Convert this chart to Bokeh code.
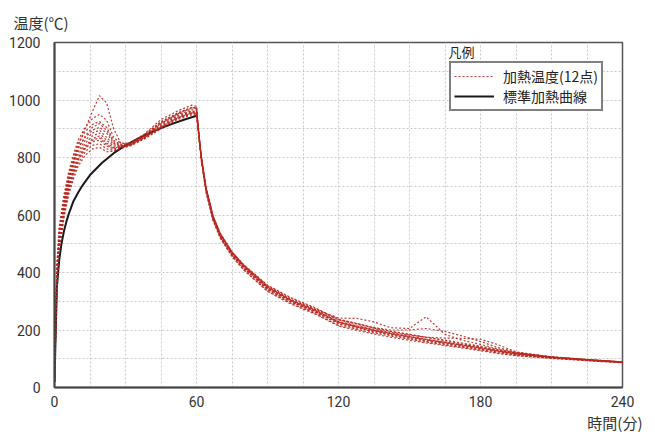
from bokeh.plotting import figure
from bokeh.models import Legend, LegendItem, Label, FixedTicker, Title
from bokeh.core.properties import value
from bokeh.embed import file_html
from bokeh.resources import INLINE

# time (minutes) for measured heating temperatures
T = [0, 1, 2, 4, 6, 8, 10, 13, 16, 19, 22, 25, 28, 32, 38, 45, 52, 58, 60,
     61, 62, 64, 67, 70, 75, 80, 90, 100, 110, 120, 128, 135, 142, 150, 157, 165, 172, 180, 187, 195, 210, 225, 240]

C1 = [20, 400, 530, 640, 720, 780, 840, 900, 960, 1015, 990, 900, 850, 845, 872, 918, 952, 972, 975,
      885, 808, 700, 598, 538, 472, 425, 352, 305, 272, 235, 220, 206, 195, 184, 174, 163, 152, 141, 130, 119, 106, 97, 89]
C2 = [20, 430, 560, 670, 750, 810, 860, 905, 935, 950, 930, 870, 850, 850, 882, 932, 962, 982, 978,
      880, 802, 692, 592, 532, 468, 422, 350, 305, 272, 242, 240, 228, 208, 205, 246, 185, 165, 150, 135, 121, 106, 97, 89]
C3 = [20, 420, 550, 660, 740, 800, 850, 890, 915, 925, 905, 860, 845, 850, 880, 925, 955, 972, 970,
      878, 800, 690, 590, 530, 465, 420, 348, 302, 268, 230, 214, 203, 192, 182, 175, 172, 171, 168, 150, 124, 106, 96, 88]
C4 = [20, 410, 540, 650, 730, 790, 835, 870, 895, 905, 885, 850, 840, 848, 878, 920, 950, 966, 965,
      882, 805, 695, 595, 535, 470, 424, 350, 304, 270, 228, 212, 199, 188, 177, 167, 157, 148, 138, 128, 117, 104, 95, 87]
C5 = [20, 390, 520, 640, 715, 775, 820, 860, 885, 895, 870, 845, 840, 845, 875, 915, 946, 962, 960,
      875, 795, 685, 585, 525, 460, 414, 340, 296, 262, 222, 206, 194, 183, 171, 161, 152, 143, 133, 124, 114, 103, 95, 87]
C6 = [20, 380, 510, 630, 705, 765, 810, 850, 875, 885, 860, 840, 838, 845, 873, 912, 944, 960, 958,
      878, 798, 688, 588, 528, 463, 418, 344, 299, 265, 226, 210, 198, 187, 176, 166, 156, 147, 137, 127, 117, 105, 96, 88]
C7 = [20, 370, 500, 620, 700, 755, 800, 840, 865, 875, 850, 835, 838, 845, 870, 908, 940, 956, 955,
      872, 792, 682, 582, 522, 458, 410, 336, 292, 258, 216, 202, 190, 179, 168, 158, 148, 140, 130, 121, 112, 102, 94, 86]
C8 = [20, 360, 490, 610, 690, 745, 790, 830, 855, 860, 840, 830, 836, 842, 868, 905, 937, 954, 953,
      880, 803, 694, 594, 534, 470, 425, 355, 310, 276, 238, 222, 208, 196, 185, 175, 165, 155, 144, 133, 121, 107, 98, 89]
C9 = [20, 350, 480, 600, 680, 735, 780, 820, 842, 848, 830, 825, 834, 842, 866, 903, 935, 952, 950,
      876, 797, 687, 587, 527, 462, 416, 342, 298, 264, 224, 208, 196, 185, 174, 164, 154, 145, 135, 126, 116, 104, 95, 88]
C10 = [20, 340, 470, 590, 670, 725, 770, 808, 830, 835, 820, 822, 832, 840, 864, 900, 932, 948, 947,
       870, 790, 680, 580, 520, 455, 408, 334, 290, 256, 214, 198, 186, 175, 164, 155, 146, 138, 128, 119, 110, 101, 93, 86]
C11 = [20, 395, 525, 645, 725, 785, 830, 875, 905, 918, 895, 855, 842, 848, 877, 922, 954, 975, 972,
       884, 806, 696, 596, 536, 472, 427, 356, 312, 278, 236, 222, 208, 200, 200, 205, 195, 180, 160, 140, 122, 106, 97, 89]
C12 = [20, 365, 495, 615, 695, 750, 795, 835, 860, 868, 845, 832, 837, 843, 869, 906, 938, 955, 954,
       879, 800, 690, 590, 530, 466, 420, 347, 302, 268, 228, 212, 200, 189, 178, 168, 158, 149, 139, 129, 118, 105, 96, 88]

# standard heating curve (to 60 min)
TS = [0, 1, 2, 3, 4, 5, 6, 8, 10, 12, 15, 20, 25, 30, 35, 40, 45, 50, 55, 60]
STD = [20, 349, 444, 502, 544, 576, 603, 648, 678, 705, 739, 781, 815, 842, 865, 885, 902, 918, 932, 945]

X_TICKS = [0, 60, 120, 180, 240]
Y_TICKS = [0, 200, 400, 600, 800, 1000, 1200]
Y_LABEL = "温度(℃)"
X_LABEL = "時間(分)"
LEG_TITLE = "凡例"
LEG_RED = "加熱温度(12点)"
LEG_BLACK = "標準加熱曲線"

FONT = "Noto Sans CJK JP"
RED = "#b8261e"

p = figure(width=650, height=432, x_range=(0, 240), y_range=(0, 1200),
           output_backend="svg", toolbar_location=None,
           min_border_left=54, min_border_right=28, min_border_top=41, min_border_bottom=44)
p.background_fill_color = "white"
p.border_fill_color = "white"
p.outline_line_color = "#555555"
p.outline_line_width = 1.5

p.xgrid.ticker = FixedTicker(ticks=list(range(0, 241, 15)))
p.ygrid.ticker = FixedTicker(ticks=list(range(0, 1201, 100)))
for g in (p.xgrid, p.ygrid):
    g.grid_line_color = "#c8c8c8"
    g.grid_line_dash = "2 2"
    g.grid_line_width = 1

for ax in (p.xaxis, p.yaxis):
    ax.axis_line_color = "#444444"
    ax.axis_line_width = 2
    ax.major_tick_line_color = None
    ax.minor_tick_line_color = None
    ax.major_label_text_font = "Roboto"
    ax.major_label_text_font_size = "14px"
    ax.major_label_text_color = "#333333"
p.xaxis.ticker = FixedTicker(ticks=X_TICKS)
p.yaxis.ticker = FixedTicker(ticks=Y_TICKS)
p.xaxis.major_label_standoff = 2
p.yaxis.major_label_standoff = 8

r_black = p.line(TS, STD, line_color="#1a1a1a", line_width=2)
r_red = p.multi_line(xs=[T] * 12, ys=[C1, C2, C3, C4, C5, C6, C7, C8, C9, C10, C11, C12],
                     line_color=RED, line_width=1.2, line_dash=value("2 2"), line_alpha=0.9)

legend = Legend(items=[LegendItem(label=LEG_RED, renderers=[r_red]),
                       LegendItem(label=LEG_BLACK, renderers=[r_black])],
                location=(395, 276))
legend.label_text_font = FONT
legend.label_text_font_size = "14px"
legend.label_text_line_height = 1.0
legend.label_text_color = "#222222"
legend.border_line_color = "black"
legend.border_line_width = 2
legend.background_fill_color = "white"
legend.background_fill_alpha = 1
legend.glyph_width = 40
legend.glyph_height = 16
legend.label_height = 16
legend.padding = 3
legend.spacing = 0
legend.margin = 0
legend.label_standoff = 9
p.add_layout(legend)

p.add_layout(Label(x=166.5, y=1170, text=LEG_TITLE, text_font=FONT, text_font_size="13px",
                   text_color="#222222", text_baseline="middle"))

t_y = Title(text=Y_LABEL, align="left", offset=-41, standoff=19,
            text_font=FONT, text_font_size="15px", text_font_style="normal", text_color="#333333")
p.add_layout(t_y, "above")
t_x = Title(text=X_LABEL, align="right", offset=-20, standoff=0,
            text_font=FONT, text_font_size="15px", text_font_style="normal", text_color="#333333")
p.add_layout(t_x, "below")

open("out.html", "w").write(file_html(p, INLINE))
